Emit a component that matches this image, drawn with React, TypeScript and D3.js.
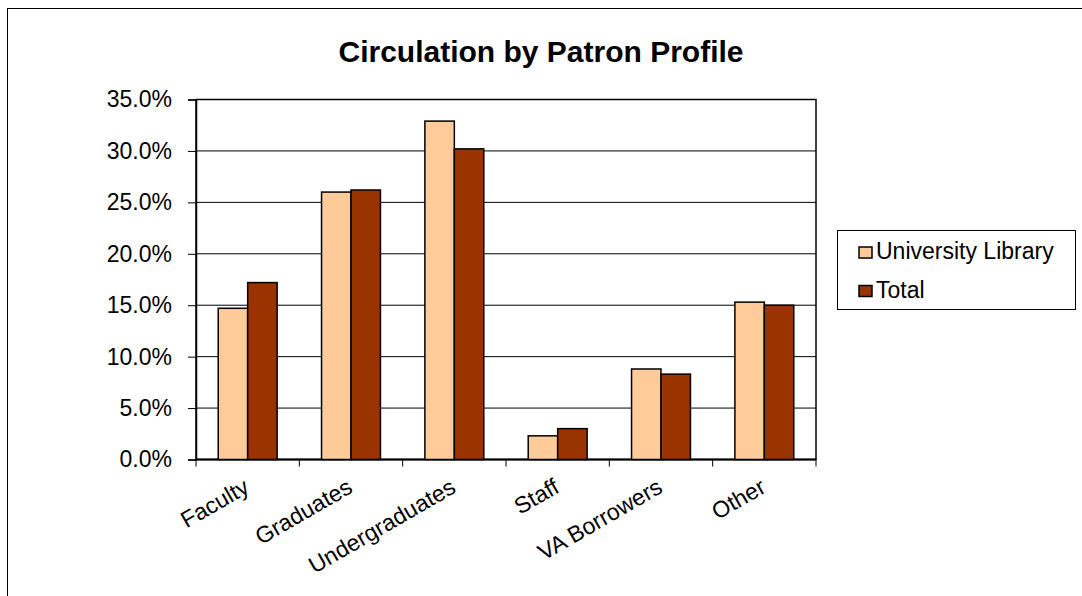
import React, { useEffect, useRef } from 'react';
import * as d3 from 'd3';

// chart data
const categories = ['Faculty', 'Graduates', 'Undergraduates', 'Staff', 'VA Borrowers', 'Other'];
const seriesNames = ['University Library', 'Total'];
const universityLibrary = [14.7, 26.0, 32.9, 2.3, 8.8, 15.3];
const total = [17.2, 26.2, 30.2, 3.0, 8.3, 15.0];
const yTicks = [0, 5, 10, 15, 20, 25, 30, 35];
const colors = ['#FFCC99', '#993300'];

const FONT = '"Liberation Sans", Arial, sans-serif';

const App = () => {
  const svgRef = useRef<SVGSVGElement>(null);

  useEffect(() => {
    const svg = d3.select(svgRef.current);
    svg.selectAll('*').remove();

    const W = 1082;
    const H = 596;
    const plot = { left: 196, top: 99.5, right: 816, bottom: 459.5 };

    // outer frame
    svg.append('rect')
      .attr('x', 7.5).attr('y', 8.5)
      .attr('width', W + 20).attr('height', H + 20)
      .attr('fill', 'white').attr('stroke', '#000').attr('stroke-width', 1);

    // title
    svg.append('text')
      .attr('x', 541).attr('y', 62)
      .attr('text-anchor', 'middle')
      .attr('font-family', FONT).attr('font-weight', 'bold').attr('font-size', 30)
      .text('Circulation by Patron Profile');

    const x0 = d3.scaleBand<string>()
      .domain(categories)
      .range([plot.left, plot.right])
      .paddingInner(0.43)
      .paddingOuter(0.215);

    const x1 = d3.scaleBand<number>()
      .domain([0, 1])
      .range([0, x0.bandwidth()]);

    const y = d3.scaleLinear().domain([0, 35]).range([plot.bottom, plot.top]);

    // gridlines
    svg.append('g').selectAll('line')
      .data(yTicks.slice(1))
      .enter().append('line')
      .attr('x1', plot.left).attr('x2', plot.right)
      .attr('y1', d => y(d)).attr('y2', d => y(d))
      .attr('stroke', '#000').attr('stroke-width', 1);

    // plot border
    svg.append('rect')
      .attr('x', plot.left).attr('y', plot.top)
      .attr('width', plot.right - plot.left).attr('height', plot.bottom - plot.top)
      .attr('fill', 'none').attr('stroke', '#000').attr('stroke-width', 1.5);

    // y axis
    const yAxis = svg.append('g')
      .attr('transform', `translate(${plot.left},0)`)
      .call(d3.axisLeft(y).tickValues(yTicks).tickSize(8).tickPadding(16)
        .tickFormat(d => `${(+d).toFixed(1)}%`));
    yAxis.select('.domain').attr('stroke-width', 1.5);
    yAxis.selectAll('text').attr('font-family', FONT).attr('font-size', 23).attr('fill', '#000');

    // x axis ticks at category boundaries
    const step = (plot.right - plot.left) / categories.length;
    svg.append('g').selectAll('line')
      .data(d3.range(categories.length + 1))
      .enter().append('line')
      .attr('x1', i => plot.left + i * step).attr('x2', i => plot.left + i * step)
      .attr('y1', plot.bottom).attr('y2', plot.bottom + 7)
      .attr('stroke', '#000').attr('stroke-width', 1);
    svg.append('line')
      .attr('x1', plot.left).attr('x2', plot.right)
      .attr('y1', plot.bottom).attr('y2', plot.bottom)
      .attr('stroke', '#000').attr('stroke-width', 2);

    // x labels
    svg.append('g').selectAll('text')
      .data(categories)
      .enter().append('text')
      .attr('transform', d => `translate(${x0(d)! + x0.bandwidth() / 2 + 3},${plot.bottom + 32}) rotate(-30)`)
      .attr('text-anchor', 'end')
      .attr('font-family', FONT).attr('font-size', 23)
      .text(d => d);

    // bars
    const series = [universityLibrary, total];
    const groups = svg.append('g').selectAll('g')
      .data(categories)
      .enter().append('g')
      .attr('transform', d => `translate(${x0(d)},0)`);

    groups.selectAll('rect')
      .data((d, i) => series.map((s, k) => ({ k, v: s[i] })))
      .enter().append('rect')
      .attr('x', d => x1(d.k)!)
      .attr('y', d => y(d.v))
      .attr('width', x1.bandwidth())
      .attr('height', d => plot.bottom - y(d.v))
      .attr('fill', d => colors[d.k])
      .attr('stroke', '#000').attr('stroke-width', 1.5);

    // legend
    const legend = svg.append('g');
    legend.append('rect')
      .attr('x', 837.5).attr('y', 230.5).attr('width', 238).attr('height', 79)
      .attr('fill', 'white').attr('stroke', '#000').attr('stroke-width', 1);
    seriesNames.forEach((name, i) => {
      const base = 259 + i * 38.5;
      legend.append('rect')
        .attr('x', 859).attr('y', base - 12).attr('width', 13).attr('height', 11)
        .attr('fill', colors[i]).attr('stroke', '#000').attr('stroke-width', 1.5);
      legend.append('text')
        .attr('x', 876).attr('y', base)
        .attr('font-family', FONT).attr('font-size', 23)
        .text(name);
    });
  }, []);

  return (
    <svg ref={svgRef} width={1082} height={596}
      style={{ position: 'absolute', left: 0, top: 0, background: 'white' }} />
  );
};

export default App;
